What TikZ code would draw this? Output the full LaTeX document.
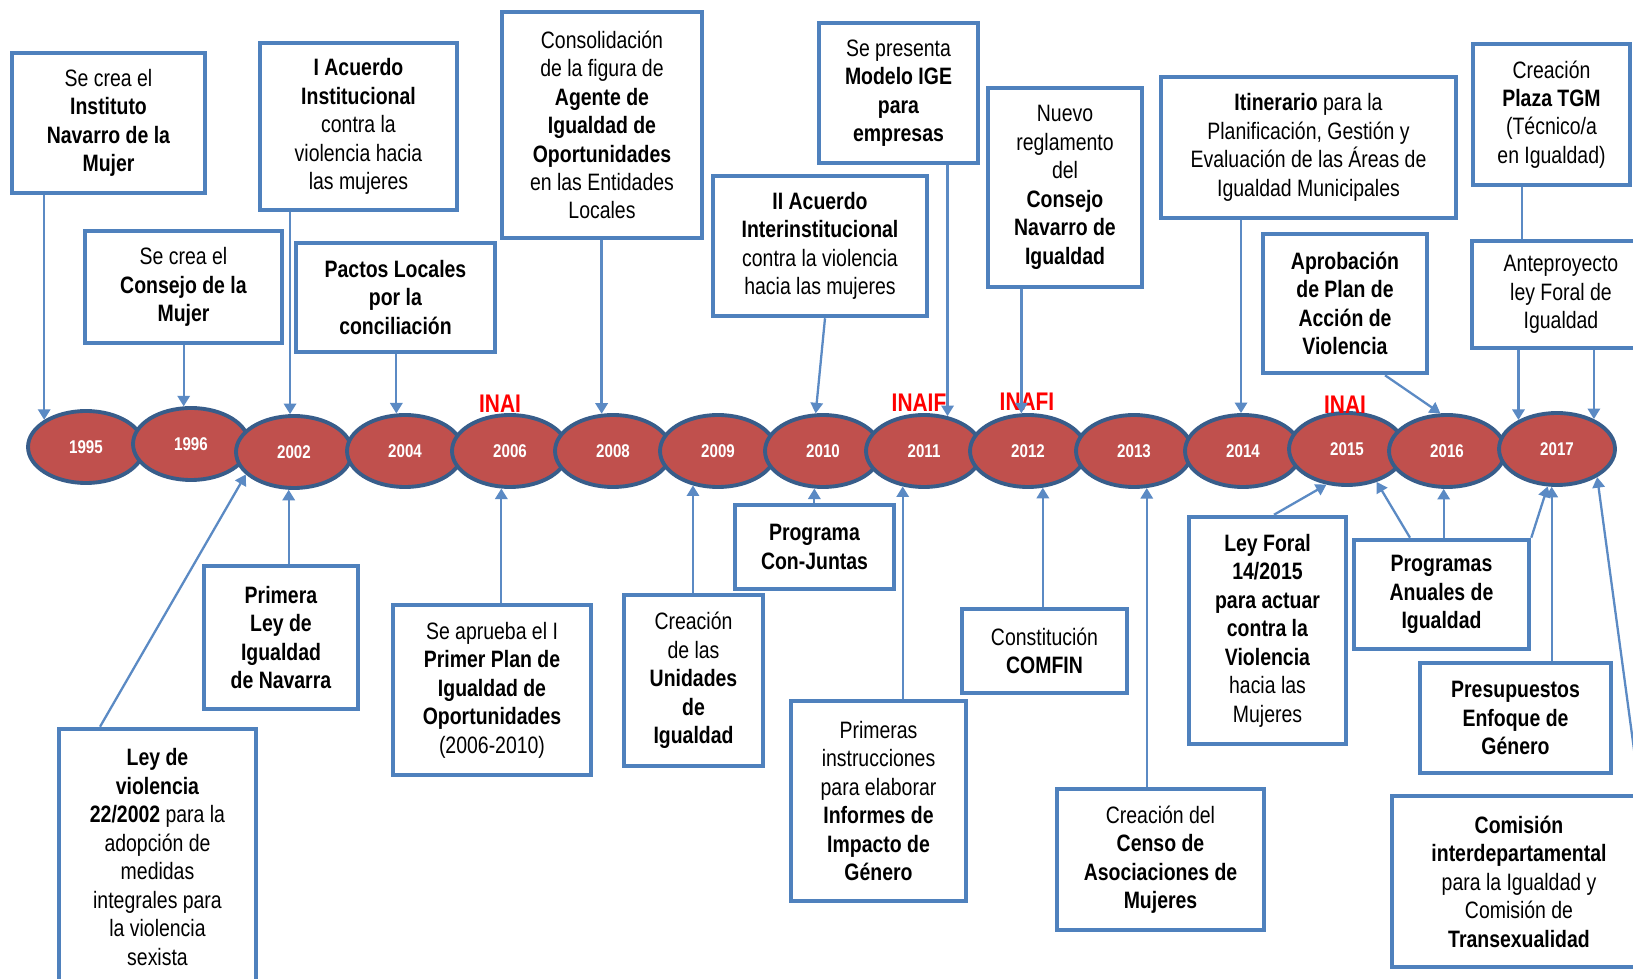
\documentclass[tikz,border=0pt]{standalone}
\usepackage{fontspec}
\setmainfont{Liberation Sans}[FakeStretch=0.82]
\usetikzlibrary{shapes.geometric}
\usetikzlibrary{arrows.meta}
\definecolor{boxblue}{HTML}{4F81BD}
\definecolor{ringblue}{HTML}{385D8A}
\definecolor{yearred}{HTML}{C0504D}
\definecolor{linkblue}{HTML}{5B8AC4}

\begin{document}
\begin{tikzpicture}[x=0.02cm, y=-0.02cm,
    yearball/.style={ellipse, draw=ringblue, line width=2.2pt, fill=yearred,
      minimum width=2.32cm, minimum height=1.44cm, inner sep=0pt,
      text=white, font=\fontsize{10.5}{12}\selectfont\bfseries},
    evbox/.style={draw=boxblue, line width=2.6pt, fill=white, inner sep=0pt,
      align=center, font=\fontsize{13.5}{16.2}\selectfont},
    link/.style={draw=linkblue, line width=1.3pt, -{Triangle[length=6pt,width=7pt]}},
    inai/.style={text=red, font=\fontsize{14.5}{16}\selectfont\bfseries}]
    \fill[white] (0,0) rectangle (1633,979);
    \useasboundingbox (0,0) rectangle (1633,979);

    \foreach \yr/\cx/\cy in {1995/86/447, 1996/191/444, 2002/294/452, 2004/405/451,
      2006/510/451, 2008/613/451, 2009/718/451, 2010/823/451, 2011/924/451,
      2012/1028/451, 2013/1134/451, 2014/1243/451, 2015/1347/449,
      2016/1447/451, 2017/1557/449}
      \node[yearball] (y\yr) at (\cx,\cy) {\yr};

    \foreach \lab/\lx/\ly [count=\i] in {INAI/500/404, INAIF/919/403, INAFI/1027/402, INAI/1345/405}
      \node[inai] (inai\i) at (\lx,\ly) {\lab};

    % arriba
    \node[evbox, minimum width=3.86cm, minimum height=2.80cm] (inst) at (108.5,123)
      {Se crea el\\ \textbf{Instituto}\\ \textbf{Navarro de la}\\ \textbf{Mujer}};
    \node[evbox, minimum width=3.94cm, minimum height=2.24cm] (consejo) at (183.5,287)
      {Se crea el\\ \textbf{Consejo de la}\\ \textbf{Mujer}};
    \node[evbox, minimum width=3.94cm, minimum height=3.34cm] (iacuerdo) at (358.5,126.5)
      {\textbf{I Acuerdo}\\ \textbf{Institucional}\\ contra la\\ violencia hacia\\ las mujeres};
    \node[evbox, minimum width=3.98cm, minimum height=2.18cm] (pactos) at (395.5,297.5)
      {\textbf{Pactos Locales}\\ \textbf{por la}\\ \textbf{conciliación}};
    \node[evbox, minimum width=4.00cm, minimum height=4.52cm] (consol) at (602,125)
      {Consolidación\\ de la figura de\\ \textbf{Agente de}\\ \textbf{Igualdad de}\\ \textbf{Oportunidades}\\ en las Entidades\\ Locales};
    \node[evbox, minimum width=3.18cm, minimum height=2.80cm] (ige) at (898.5,93)
      {Se presenta\\ \textbf{Modelo IGE}\\ \textbf{para}\\ \textbf{empresas}};
    \node[evbox, minimum width=4.28cm, minimum height=2.80cm] (iiacuerdo) at (820,246)
      {\textbf{II Acuerdo}\\ \textbf{Interinstitucional}\\ contra la violencia\\ hacia las mujeres};
    \node[evbox, minimum width=3.08cm, minimum height=3.98cm] (nuevo) at (1065,187.5)
      {Nuevo\\ reglamento\\ del\\ \textbf{Consejo}\\ \textbf{Navarro de}\\ \textbf{Igualdad}};
    \node[evbox, minimum width=5.90cm, minimum height=2.82cm] (itiner) at (1308.5,147.5)
      {\textbf{Itinerario} para la\\ Planificación, Gestión y\\ Evaluación de las Áreas de\\ Igualdad Municipales};
    \node[evbox, minimum width=3.14cm, minimum height=2.82cm] (tgm) at (1551.5,114.5)
      {Creación\\ \textbf{Plaza TGM}\\ (Técnico/a\\ en Igualdad)};
    \node[evbox, minimum width=3.28cm, minimum height=2.78cm] (aprob) at (1345,303.5)
      {\textbf{Aprobación}\\ \textbf{de Plan de}\\ \textbf{Acción de}\\ \textbf{Violencia}};
    \node[evbox, minimum width=3.56cm, minimum height=2.14cm] (antep) at (1561,294.5)
      {Anteproyecto\\ ley Foral de\\ Igualdad};

    % abajo
    \node[evbox, minimum width=3.94cm, minimum height=5.12cm] (leyviol) at (157.5,857)
      {\textbf{Ley de}\\ \textbf{violencia}\\ \textbf{22/2002} para la\\ adopción de\\ medidas\\ integrales para\\ la violencia\\ sexista};
    \node[evbox, minimum width=3.08cm, minimum height=2.86cm] (primera) at (281,637.5)
      {\textbf{Primera}\\ \textbf{Ley de}\\ \textbf{Igualdad}\\ \textbf{de Navarra}};
    \node[evbox, minimum width=3.96cm, minimum height=3.40cm] (plan) at (492,690)
      {Se aprueba el I\\ \textbf{Primer Plan de}\\ \textbf{Igualdad de}\\ \textbf{Oportunidades}\\ (2006-2010)};
    \node[evbox, minimum width=2.78cm, minimum height=3.42cm] (unid) at (693.5,680.5)
      {Creación\\ de las\\ \textbf{Unidades}\\ \textbf{de}\\ \textbf{Igualdad}};
    \node[evbox, minimum width=3.18cm, minimum height=1.68cm] (conj) at (814.5,547)
      {\textbf{Programa}\\ \textbf{Con-Juntas}};
    \node[evbox, minimum width=3.50cm, minimum height=4.00cm] (primeras) at (878.5,801)
      {Primeras\\ instrucciones\\ para elaborar\\ \textbf{Informes de}\\ \textbf{Impacto de}\\ \textbf{Género}};
    \node[evbox, minimum width=3.30cm, minimum height=1.68cm] (comfin) at (1044.5,651)
      {Constitución\\ \textbf{COMFIN}};
    \node[evbox, minimum width=4.14cm, minimum height=2.82cm] (censo) at (1160.5,859.5)
      {Creación del\\ \textbf{Censo de}\\ \textbf{Asociaciones de}\\ \textbf{Mujeres}};
    \node[evbox, minimum width=3.14cm, minimum height=4.54cm] (leyforal) at (1267.5,630.5)
      {\textbf{Ley Foral}\\ \textbf{14/2015}\\ \textbf{para actuar}\\ \textbf{contra la}\\ \textbf{Violencia}\\ hacia las\\ Mujeres};
    \node[evbox, minimum width=3.50cm, minimum height=2.18cm] (progr) at (1441.5,594.5)
      {\textbf{Programas}\\ \textbf{Anuales de}\\ \textbf{Igualdad}};
    \node[evbox, minimum width=3.82cm, minimum height=2.20cm] (presup) at (1515.5,718)
      {\textbf{Presupuestos}\\ \textbf{Enfoque de}\\ \textbf{Género}};
    \node[evbox, minimum width=5.08cm, minimum height=3.42cm] (comis) at (1519,881.5)
      {\textbf{Comisión}\\ \textbf{interdepartamental}\\ para la Igualdad y\\ Comisión de\\ \textbf{Transexualidad}};

    \draw[link] (inst.south -| y1995.147) -- (y1995.147);
    \draw[link] (consejo.south -| y1996.101) -- (y1996.101);
    \draw[link] (iacuerdo.south -| y2002.96) -- (y2002.96);
    \draw[link] (pactos.south -| y2004.103) -- (y2004.103);
    \draw[link] (consol.south -| y2008.107) -- (y2008.107);
    \draw[link] ([xshift=0.1cm]iiacuerdo.south) -- (y2010.101);
    \draw[link] (ige.south -| y2011.56) -- (y2011.56);
    \draw[link] (nuevo.south -| y2012.100) -- (y2012.100);
    \draw[link] (itiner.south -| y2014.93) -- (y2014.93);
    \draw[link] ([xshift=0.8cm]aprob.south) -- (y2016.100);
    \draw[draw=linkblue, line width=1.3pt] ([xshift=-0.59cm]tgm.south) -- ([xshift=-0.59cm]tgm.south |- antep.north);
    \draw[link] (antep.south -| y2017.143) -- (y2017.143);
    \draw[link] (antep.south -| y2017.39) -- (y2017.39);

    \draw[link] ([xshift=-1.15cm]leyviol.north) -- (y2002.205);
    \draw[link] (primera.north -| y2002.262) -- (y2002.262);
    \draw[link] (plan.north -| y2006.257) -- (y2006.257);
    \draw[link] (unid.north -| y2009.234) -- (y2009.234);
    \draw[link] (conj.north -| y2010.257) -- (y2010.257);
    \draw[link] (primeras.north -| y2011.239) -- (y2011.239);
    \draw[link] (comfin.north -| y2012.292) -- (y2012.292);
    \draw[link] (censo.north -| y2013.289) -- (y2013.289);
    \draw[link] ([xshift=0.13cm]leyforal.north) -- (y2015.240);
    \draw[link] ([xshift=-0.63cm]progr.north) -- (y2015.312);
    \draw[link] (progr.north -| y2016.265) -- (y2016.265);
    \draw[link] (progr.north east) -- (y2017.256);
    \draw[link] (presup.north -| y2017.262) -- (y2017.262);
    \draw[link] ([xshift=2.42cm]comis.north) -- (y2017.325);
\end{tikzpicture}
\end{document}
